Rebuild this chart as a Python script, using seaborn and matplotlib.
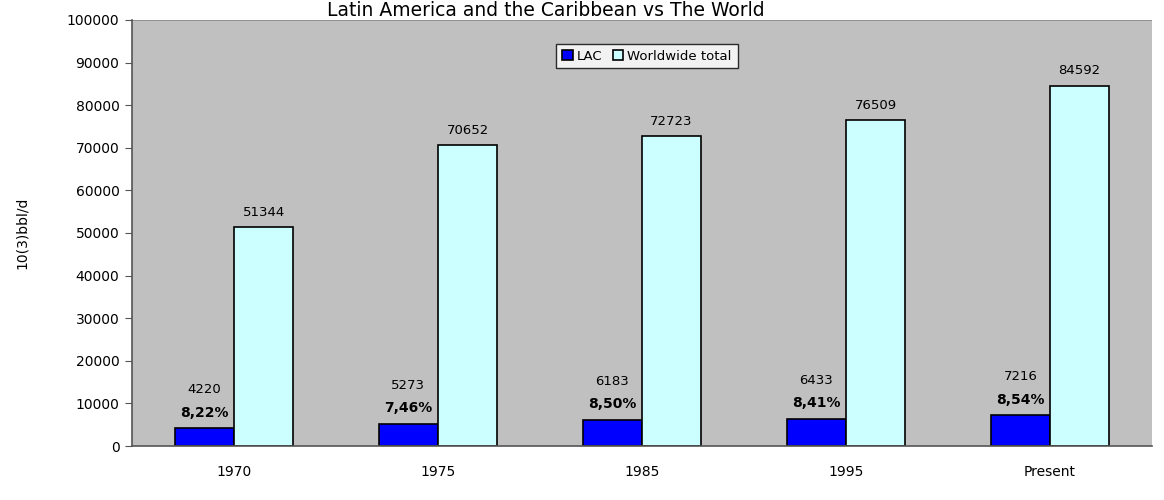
import matplotlib
matplotlib.use("Agg")
import matplotlib.pyplot as plt
import seaborn as sns
import pandas as pd
import numpy as np

categories = ["1970", "1975", "1985", "1995", "Present"]
lac = [4220, 5273, 6183, 6433, 7216]
world = [51344, 70652, 72723, 76509, 84592]
shares = ["8,22%", "7,46%", "8,50%", "8,41%", "8,54%"]
series = ["LAC", "Worldwide total"]

df = pd.DataFrame({
    "period": categories * 2,
    "value": lac + world,
    "series": [series[0]] * len(categories) + [series[1]] * len(categories),
})

sns.set_style("white")
plt.rcParams["font.family"] = ["DejaVu Sans"]
plt.rcParams["text.color"] = "black"
plt.rcParams["axes.labelcolor"] = "black"
plt.rcParams["xtick.labelcolor"] = "black"
plt.rcParams["ytick.labelcolor"] = "black"

fig = plt.figure(figsize=(11.64, 5.0), dpi=100)
ax = fig.add_axes([132 / 1164, 54 / 500, 1020 / 1164, 426 / 500])
ax.set_facecolor("#C0C0C0")

sns.barplot(data=df, x="period", y="value", hue="series", order=categories,
            hue_order=series, palette=["#0000FF", "#CCFFFF"], width=0.58,
            edgecolor="black", linewidth=1.2, saturation=1, ax=ax, legend=True)

ax.set_ylim(0, 100000)
ax.set_xlim(-0.5, len(categories) - 0.5)
ax.set_yticks(np.arange(0, 100001, 10000))
ax.set_yticklabels([str(v) for v in range(0, 100001, 10000)], fontsize=10)
ax.set_xticks(range(len(categories)))
ax.set_xticklabels(categories, fontsize=10)
ax.tick_params(axis="x", length=0, pad=14)
ax.set_xticks(np.arange(-0.5, len(categories), 1.0), minor=True)
ax.tick_params(axis="x", which="minor", length=6, color="#555555", direction="out")
ax.tick_params(axis="y", length=5, color="#555555", direction="out", left=True, pad=4)
ax.set_xlabel("")
ax.set_ylabel("10(3)bbl/d", fontsize=10, labelpad=27)

for s in ["top", "right"]:
    ax.spines[s].set_visible(False)
ax.spines["left"].set_color("#555555")
ax.spines["bottom"].set_color("#555555")
ax.spines["left"].set_linewidth(1.2)
ax.spines["bottom"].set_linewidth(1.2)
ax.axhline(100000, color="#888888", lw=1.2)

# labels
lac_bars = ax.containers[0]
world_bars = ax.containers[1]
for bar, v, sh in zip(lac_bars, lac, shares):
    x = bar.get_x() + bar.get_width() / 2
    ax.annotate(sh, (x, v), xytext=(0, 6), textcoords="offset points",
                ha="center", va="bottom", fontsize=10, fontweight="bold")
    ax.annotate(str(v), (x, v), xytext=(0, 23), textcoords="offset points",
                ha="center", va="bottom", fontsize=9.5)
for bar, v in zip(world_bars, world):
    x = bar.get_x() + bar.get_width() / 2
    ax.annotate(str(v), (x, v), xytext=(0, 6), textcoords="offset points",
                ha="center", va="bottom", fontsize=9.5)

leg = ax.legend(loc="center", bbox_to_anchor=(647 / 1164, 1 - 56 / 500),
                bbox_transform=fig.transFigure, ncol=2, fontsize=9.5,
                frameon=True, fancybox=False, edgecolor="black",
                handlelength=0.8, handleheight=0.8, handletextpad=0.3,
                columnspacing=0.8, borderpad=0.45, title=None)
leg.get_frame().set_facecolor("white")
leg.get_frame().set_linewidth(1.0)
for t in leg.get_texts():
    t.set_color("black")

fig.text(546 / 1164, 1 - 1 / 500, "Latin America and the Caribbean vs The World",
         ha="center", va="top", fontsize=13.5)

fig.savefig("out.png", dpi=100)
